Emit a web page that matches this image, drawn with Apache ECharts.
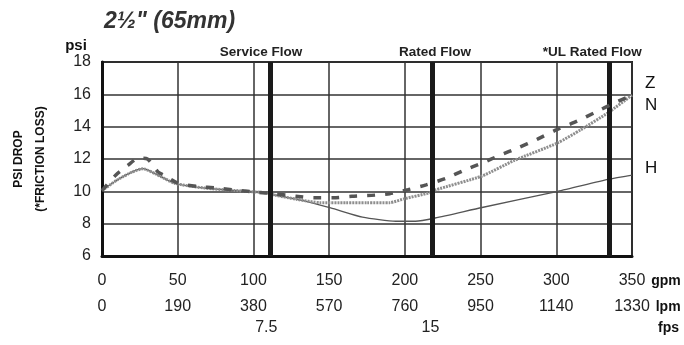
<!DOCTYPE html>
<html><head><meta charset="utf-8">
<script src="https://cdn.jsdelivr.net/npm/echarts@6/dist/echarts.min.js"></script>
<style>html,body{margin:0;padding:0;background:#fff}#c{width:684px;height:345px}</style>
</head><body><div id="c"></div>
<script>
// ---- data ----
const titleText = '2\u00BD" (65mm)';
const gpmTicks = [0, 50, 100, 150, 200, 250, 300, 350];
const lpmTicks = [0, 190, 380, 570, 760, 950, 1140, 1330];
const fpsTicks = [7.5, 15];
const psiTicks = [6, 8, 10, 12, 14, 16, 18];
const flowLines = [111, 218, 335];
const flowLabels = ['Service Flow', 'Rated Flow', '*UL Rated Flow'];
const seriesNames = ['Z', 'N', 'H'];
const zData = [[0,10.05],[9,11.0],[17,11.6],[24,12.05],[30,12.0],[37,11.2],[41,11.0],[50,10.5],[63,10.3],[76,10.2],[90,10.05],[102,9.95],[114,9.85],[128,9.7],[140,9.6],[153,9.6],[165,9.7],[178,9.75],[190,9.85],[202,10.1],[214,10.4],[227,10.8],[239,11.3],[251,11.75],[262,12.2],[275,12.7],[287,13.2],[300,13.8],[314,14.35],[326,14.9],[338,15.45],[350,15.95]];
const nData = [[0,10.05],[10,10.7],[20,11.2],[27,11.4],[35,11.1],[48,10.5],[68,10.2],[88,10.05],[109,9.9],[114,9.77],[129,9.5],[144,9.3],[161,9.3],[175,9.3],[190,9.3],[200,9.55],[216,9.9],[220,10.08],[251,10.95],[272,11.9],[301,13.0],[316,13.8],[334,14.85],[350,15.95]];
const hData = [[0,10.05],[10,10.7],[20,11.2],[27,11.4],[35,11.1],[48,10.5],[68,10.2],[88,10.05],[109,9.9],[114,9.77],[129,9.5],[151,8.97],[172,8.4],[194,8.15],[207,8.15],[220,8.35],[251,9.0],[301,10.0],[335,10.75],[350,11.0]];

const FONT = "'Liberation Sans',Arial,sans-serif";
const chart = echarts.init(document.getElementById('c'), null, {renderer: 'canvas'});
const labelPads = [[0,18,0,0],[0,0,0,6],[0,34,0,0]];
const plain = v => String(v);

const baseX = {
  type: 'value', position: 'bottom', axisTick: {show: false},
  nameLocation: 'end',
  nameTextStyle: {fontFamily: FONT, fontWeight: 'bold', fontSize: 14, color: '#111', verticalAlign: 'top', padding: [18,0,0,0]},
  axisLabel: {fontFamily: FONT, fontSize: 16, color: '#222', margin: 17, formatter: plain}
};

chart.setOption({
  animation: false,
  title: {text: titleText, left: 99, top: 5, textStyle: {fontFamily: FONT, fontSize: 23, fontWeight: 'bold', fontStyle: 'italic', color: '#333'}},
  grid: {left: 96, right: 52, top: 62, bottom: 89, show: true, borderColor: '#222', borderWidth: 2, containLabel: false},
  xAxis: [
    Object.assign({}, baseX, {
      min: 0, max: 350, interval: 50, name: 'gpm', nameGap: 15,
      axisLine: {show: true, lineStyle: {color: '#111', width: 3}},
      splitLine: {show: true, lineStyle: {color: '#333', width: 1.5}}
    }),
    Object.assign({}, baseX, {
      min: 0, max: 1330, interval: 190, name: 'lpm', nameGap: 21, offset: 26,
      axisLine: {show: false}, splitLine: {show: false}
    }),
    Object.assign({}, baseX, {
      min: 0, max: 24.2, name: 'fps', nameGap: 26, offset: 47,
      axisLine: {show: false}, splitLine: {show: false},
      axisLabel: Object.assign({}, baseX.axisLabel, {customValues: fpsTicks})
    })
  ],
  yAxis: [
    {
      type: 'value', min: 6, max: 18, interval: 2, name: 'psi', nameLocation: 'end', nameGap: 9,
      nameTextStyle: {fontFamily: FONT, fontWeight: 'bold', fontSize: 15, color: '#111', padding: [0,52,0,0]},
      axisLine: {show: true, lineStyle: {color: '#111', width: 3}}, axisTick: {show: false},
      axisLabel: {fontFamily: FONT, fontSize: 16, color: '#222', margin: 11},
      splitLine: {show: true, lineStyle: {color: '#333', width: 1.5}}
    },
    {
      type: 'value', min: 6, max: 18, position: 'left',
      name: 'PSI DROP\n(*FRICTION LOSS)', nameLocation: 'middle', nameGap: 50, nameRotate: 90,
      nameTextStyle: {fontFamily: FONT, fontWeight: 'bold', fontSize: 12, color: '#111', lineHeight: 22},
      axisLine: {show: false}, axisTick: {show: false}, axisLabel: {show: false}, splitLine: {show: false}
    }
  ],
  series: [
    {
      name: seriesNames[2], type: 'line', data: hData, smooth: 0.2, symbol: 'none',
      lineStyle: {color: '#555', width: 1.3},
      endLabel: {show: true, formatter: seriesNames[2], distance: 0, offset: [13,-7], fontFamily: FONT, fontSize: 17, color: '#111'},
      markLine: {
        silent: true, symbol: 'none',
        lineStyle: {color: '#1a1a1a', width: 5, type: 'solid'},
        label: {position: 'end', distance: 3, fontFamily: FONT, fontWeight: 'bold', fontSize: 13.5, color: '#222'},
        data: flowLines.map((v, i) => ({xAxis: v, label: {formatter: flowLabels[i], padding: labelPads[i]}}))
      },
      z: 3
    },
    {
      name: seriesNames[1], type: 'line', data: nData, smooth: 0.2, symbol: 'none',
      lineStyle: {color: '#8e8e8e', width: 3, type: [2,1]},
      endLabel: {show: true, formatter: seriesNames[1], distance: 0, offset: [13,10], fontFamily: FONT, fontSize: 17, color: '#111'},
      z: 4
    },
    {
      name: seriesNames[0], type: 'line', data: zData, smooth: 0.2, symbol: 'none',
      lineStyle: {color: '#555', width: 3.5, type: [8,10]},
      endLabel: {show: true, formatter: seriesNames[0], distance: 0, offset: [13,-12], fontFamily: FONT, fontSize: 17, color: '#111'},
      z: 5
    }
  ]
});
</script></body></html>
